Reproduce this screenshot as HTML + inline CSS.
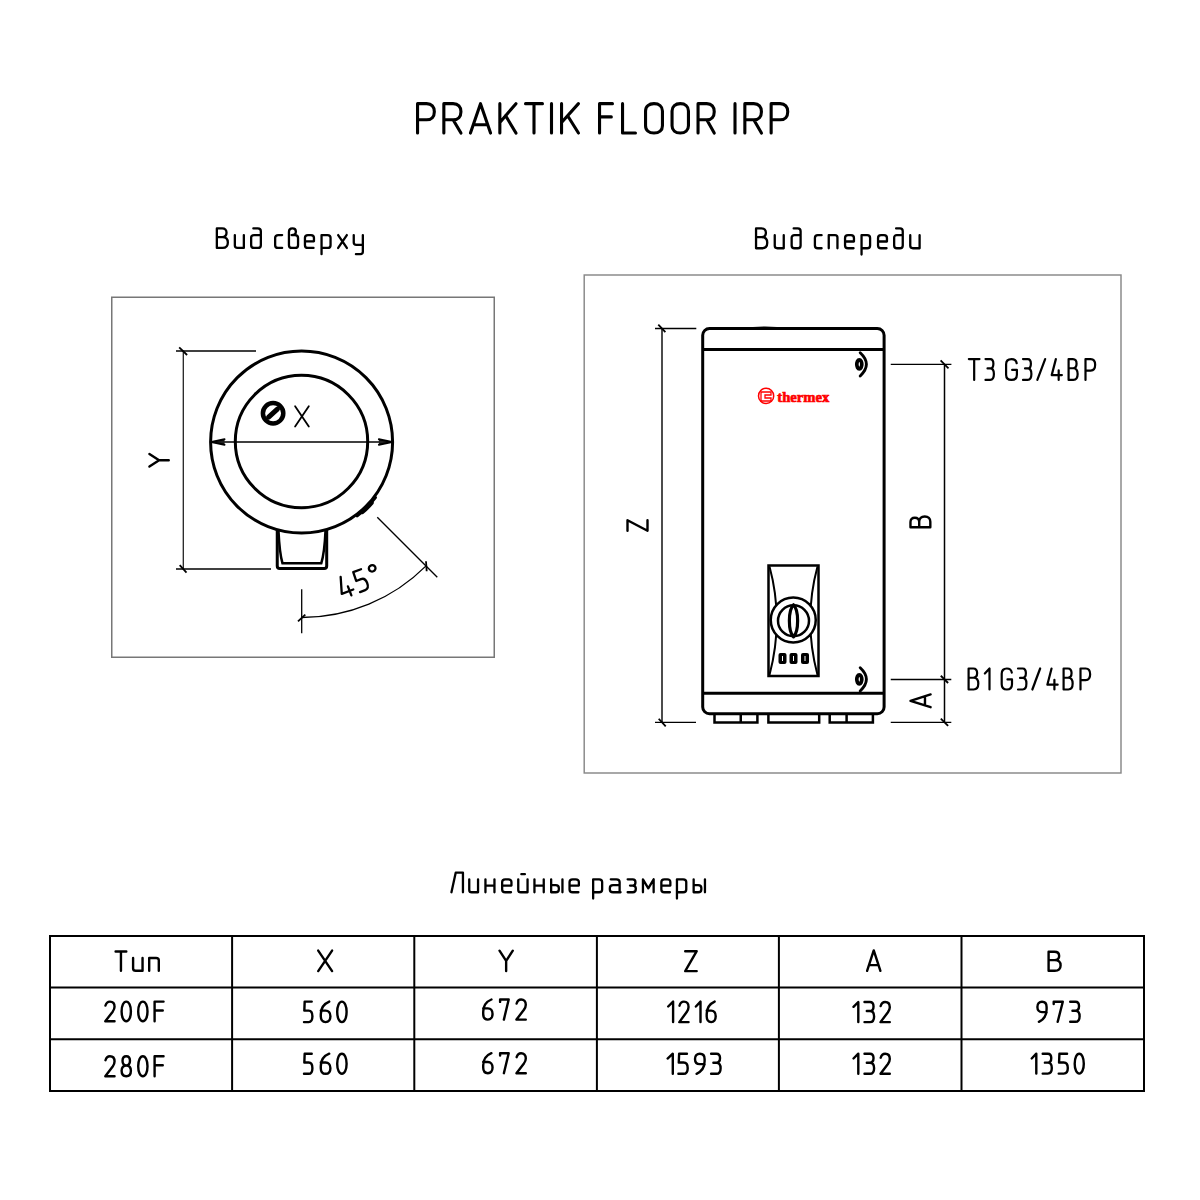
<!DOCTYPE html>
<html><head><meta charset="utf-8"><title>PRAKTIK FLOOR IRP</title>
<style>
html,body{margin:0;padding:0;background:#fff;}
svg{display:block;}
.ln{stroke:#000;fill:none;}
.tx use{vector-effect:non-scaling-stroke;}
.tx path{vector-effect:non-scaling-stroke;}
</style></head><body>
<svg width="1200" height="1200" viewBox="0 0 1200 1200">
<defs><path id="g0050" d="M0,100 L0,0 L27,0 C42,0 50,11 50,27.5 C50,44 42,55 27,55 L0,55" vector-effect="non-scaling-stroke"/><path id="g0052" d="M0,100 L0,0 L27,0 C42,0 50,11 50,27.5 C50,44 42,55 27,55 L0,55 M27,55 L50,100" vector-effect="non-scaling-stroke"/><path id="g0041" d="M0,100 L26,0 L52,100 M7.3,72 L44.7,72" vector-effect="non-scaling-stroke"/><path id="g004b" d="M0,0 L0,100 M50,0 L0,64 M18,41 L50,100" vector-effect="non-scaling-stroke"/><path id="g0054" d="M0,0 L50,0 M25,0 L25,100" vector-effect="non-scaling-stroke"/><path id="g0049" d="M0,0 L0,100" vector-effect="non-scaling-stroke"/><path id="g0046" d="M0,100 L0,0 L46,0 M0,45 L42,45" vector-effect="non-scaling-stroke"/><path id="g004c" d="M0,0 L0,100 L46,100" vector-effect="non-scaling-stroke"/><path id="g004f" d="M0,25 C0,9 10,0 25,0 C40,0 50,9 50,25 L50,75 C50,91 40,100 25,100 C10,100 0,91 0,75 Z" vector-effect="non-scaling-stroke"/><path id="g0047" d="M49,20 C47,7 38,0 25,0 C10,0 0,9 0,25 L0,75 C0,91 10,100 25,100 C40,100 50,91 50,75 L50,52 L28,52" vector-effect="non-scaling-stroke"/><path id="g0042" d="M0,44 L24,44 C37,44 44,36 44,22 C44,8 37,0 24,0 L0,0 L0,100 L26,100 C42,100 50,90 50,72 C50,54 42,44 26,44" vector-effect="non-scaling-stroke"/><path id="g0058" d="M0,0 L50,100 M50,0 L0,100" vector-effect="non-scaling-stroke"/><path id="g0412" d="M0,44 L24,44 C37,44 44,36 44,22 C44,8 37,0 24,0 L0,0 L0,100 L26,100 C42,100 50,90 50,72 C50,54 42,44 26,44" vector-effect="non-scaling-stroke"/><path id="g0059" d="M0,0 L25,50 L50,0 M25,50 L25,100" vector-effect="non-scaling-stroke"/><path id="g005a" d="M0,0 L50,0 L0,100 L50,100" vector-effect="non-scaling-stroke"/><path id="g0030" d="M25,0 C39,0 50,20 50,50 C50,80 39,100 25,100 C11,100 0,80 0,50 C0,20 11,0 25,0 Z" vector-effect="non-scaling-stroke"/><path id="g0031" d="M0,24 L24,0 L24,100" vector-effect="non-scaling-stroke"/><path id="g0032" d="M1,20 C5,7 14,0 25,0 C40,0 50,10 50,26 C50,36 46,43 40,51 L0,100 L50,100" vector-effect="non-scaling-stroke"/><path id="g0033" d="M0,0 L28,0 C40,0 47,9 47,22 C47,36 40,45 28,45 L12,45 M28,45 C43,45 50,56 50,72 C50,90 42,100 28,100 L0,100" vector-effect="non-scaling-stroke"/><path id="g0034" d="M22,0 L0,77 L54,77 M37,54 L37,100" vector-effect="non-scaling-stroke"/><path id="g0035" d="M46,0 L4,0 L2,44 L28,44 C43,44 50,56 50,72 C50,90 42,100 28,100 L0,100" vector-effect="non-scaling-stroke"/><path id="g0036" d="M44,0 C18,10 0,30 0,62 L0,72 C0,89 10,100 25,100 C40,100 50,89 50,72 C50,54 40,44 25,44 L0,44" vector-effect="non-scaling-stroke"/><path id="g0037" d="M0,12 L0,0 L50,0 L22,100" vector-effect="non-scaling-stroke"/><path id="g0038" d="M25,46 C13,46 5,37 5,23 C5,9 13,0 25,0 C37,0 45,9 45,23 C45,37 37,46 25,46 C40,46 50,56 50,73 C50,90 40,100 25,100 C10,100 0,90 0,73 C0,56 10,46 25,46 Z" vector-effect="non-scaling-stroke"/><path id="g0039" d="M50,52 L25,52 C10,52 0,42 0,26 C0,10 10,0 25,0 C40,0 50,10 50,26 L50,38 C50,70 32,90 8,100" vector-effect="non-scaling-stroke"/><path id="g002f" d="M0,100 L30,0" vector-effect="non-scaling-stroke"/><path id="g00b0" d="M15,0 C23.3,0 30,6.7 30,15 C30,23.3 23.3,30 15,30 C6.7,30 0,23.3 0,15 C0,6.7 6.7,0 15,0 Z" vector-effect="non-scaling-stroke"/><path id="g0438" d="M0,34 L0,88 C0,96 4,100 12,100 L42,100 M42,34 L42,100" vector-effect="non-scaling-stroke"/><path id="g0075" d="M0,34 L0,88 C0,96 4,100 12,100 L42,100 M42,34 L42,100" vector-effect="non-scaling-stroke"/><path id="g043f" d="M0,100 L0,34 L30,34 C38,34 42,38 42,46 L42,100" vector-effect="non-scaling-stroke"/><path id="g006e" d="M0,100 L0,34 L30,34 C38,34 42,38 42,46 L42,100" vector-effect="non-scaling-stroke"/><path id="g0434" d="M10,0 L30,0 C39,0 44,5 44,14 L44,86 C44,95 39,100 30,100 L14,100 C5,100 0,95 0,86 L0,47 C0,38 5,34 14,34 L44,34" vector-effect="non-scaling-stroke"/><path id="g0441" d="M32,34 L14,34 C5,34 0,39 0,48 L0,86 C0,95 5,100 14,100 L32,100" vector-effect="non-scaling-stroke"/><path id="g0432" d="M14,100 C5,100 0,95 0,86 L0,18 C0,6 6,0 16,0 C26,0 32,6 32,17 C32,28 26,34 12,34 L28,34 C37,34 42,40 42,49 L42,86 C42,95 37,100 28,100 Z" vector-effect="non-scaling-stroke"/><path id="g0435" d="M0,66 L42,66 L42,48 C42,39 37,34 28,34 L14,34 C5,34 0,39 0,48 L0,86 C0,95 5,100 14,100 L40,100" vector-effect="non-scaling-stroke"/><path id="g0440" d="M0,132 L0,34 L28,34 C37,34 42,39 42,48 L42,86 C42,95 37,100 28,100 L0,100" vector-effect="non-scaling-stroke"/><path id="g0445" d="M0,34 L42,100 M42,34 L0,100" vector-effect="non-scaling-stroke"/><path id="g0443" d="M0,34 L0,72 C0,80 4,84 12,84 L42,84 M42,34 L42,120 C42,128 38,132 30,132 L10,132" vector-effect="non-scaling-stroke"/><path id="g041b" d="M0,100 L17,0 L46,0 L46,100" vector-effect="non-scaling-stroke"/><path id="g043d" d="M0,34 L0,100 M0,66 L42,66 M42,34 L42,100" vector-effect="non-scaling-stroke"/><path id="g0439" d="M0,34 L0,88 C0,96 4,100 12,100 L42,100 M42,34 L42,100 M14,8 L30,8" vector-effect="non-scaling-stroke"/><path id="g044b" d="M0,34 L0,100 L20,100 C29,100 34,95 34,86 L34,78 C34,69 29,64 20,64 L0,64 M50,34 L50,100" vector-effect="non-scaling-stroke"/><path id="g0430" d="M4,34 L28,34 C37,34 42,39 42,48 L42,92 C42,97 44,100 46,100 M42,100 L14,100 C5,100 0,95 0,86 L0,78 C0,69 5,64 14,64 L42,64" vector-effect="non-scaling-stroke"/><path id="g0437" d="M0,34 L26,34 C35,34 40,39 40,49 C40,60 35,66 26,66 L12,66 M26,66 C37,66 42,72 42,82 C42,95 36,100 26,100 L0,100" vector-effect="non-scaling-stroke"/><path id="g043c" d="M0,100 L0,34 L23,80 L46,34 L46,100" vector-effect="non-scaling-stroke"/></defs>
<rect width="1200" height="1200" fill="#fff"/>

<!-- Title -->

<!-- headings -->

<!-- frames -->
<rect x="111.75" y="297.25" width="382.5" height="360" fill="none" stroke="#777" stroke-width="1.5"/>
<rect x="584.2" y="275" width="536.8" height="498" fill="none" stroke="#888" stroke-width="1.45"/>

<!-- ===== TOP VIEW ===== -->
<g class="ln">
  <line x1="183.3" y1="351" x2="183.3" y2="569" stroke="#222" stroke-width="1.3"/>
  <line x1="176" y1="351" x2="256" y2="351" stroke-width="1.3"/>
  <line x1="176" y1="569" x2="271" y2="569" stroke-width="1.3"/>
  <line x1="179.2" y1="347.3" x2="187.1" y2="355" stroke-width="1.8"/>
  <line x1="179.7" y1="565.2" x2="186.5" y2="572.7" stroke-width="1.8"/>
</g>

<circle cx="301.6" cy="442" r="91" fill="none" stroke="#000" stroke-width="3"/>
<circle cx="301.5" cy="441.5" r="66.2" fill="none" stroke="#000" stroke-width="3"/>
<line x1="211" y1="442" x2="392.2" y2="442" stroke="#000" stroke-width="1.3"/>
<path d="M224.5,439.3 L211.6,442 L224.5,444.8" fill="#222" stroke="#000" stroke-width="2" stroke-linecap="round" stroke-linejoin="round"/>
<path d="M378.9,439.3 L391.8,442 L378.9,444.8" fill="#222" stroke="#000" stroke-width="2" stroke-linecap="round" stroke-linejoin="round"/>
<!-- diameter symbol -->
<circle cx="273.1" cy="413.3" r="10.2" fill="none" stroke="#000" stroke-width="4.5"/>
<line x1="268.6" y1="417.2" x2="277.4" y2="409.2" stroke="#000" stroke-width="5" stroke-linecap="round"/>

<!-- foot -->
<path d="M277.25,530 L277.25,566 Q277.25,568.5 279.75,568.5 L324.2,568.5 Q326.7,568.5 326.7,566 L326.7,530" class="ln" stroke-width="3"/>
<path d="M278.5,531 Q279.5,553 282.5,563.3 L321.25,563.3 Q324.5,553 325.5,531" class="ln" stroke-width="2.5"/>
<!-- stub -->
<path d="M357.15,515.71 A92.3,92.3 0 0 0 375.31,497.55" class="ln" stroke-width="3.2" stroke-linecap="round"/><path d="M362.48,512.04 A92.8,92.8 0 0 0 371.64,502.88" class="ln" stroke-width="4.2" stroke-linecap="round"/>
<!-- 45 deg -->
<g class="ln" stroke-width="1.3">
  <line x1="301.7" y1="589.3" x2="301.7" y2="633.3"/>
  <line x1="377.3" y1="517.3" x2="437.3" y2="577.3"/>
  <path d="M301.7,617.5 A175.5,175.5 0 0 0 425.8,566.1"/>
</g>
<g class="ln" stroke-width="1.8">
  <line x1="298" y1="621.3" x2="305.3" y2="614.7"/>
  <line x1="426" y1="561.3" x2="426.7" y2="571.3"/>
</g>

<!-- ===== FRONT VIEW ===== -->
<g class="ln">
  <line x1="662" y1="328.5" x2="662" y2="722.3" stroke="#111" stroke-width="1.5"/>
  <line x1="655" y1="328.5" x2="696.3" y2="328.5" stroke-width="1.3"/>
  <line x1="655" y1="722.3" x2="696" y2="722.3" stroke-width="1.3"/>
  <line x1="658.3" y1="324.6" x2="665.4" y2="332.1" stroke-width="1.8"/>
  <line x1="658.7" y1="718.75" x2="665.7" y2="726.3" stroke-width="1.8"/>
  <!-- B dim -->
  <line x1="944.5" y1="364.3" x2="944.5" y2="722.4" stroke-width="1.5"/>
  <line x1="890.75" y1="364.3" x2="951.4" y2="364.3" stroke-width="1.3"/>
  <line x1="890.75" y1="679.5" x2="951.3" y2="679.5" stroke-width="1.3"/>
  <line x1="890.75" y1="722.4" x2="951.3" y2="722.4" stroke-width="1.3"/>
  <line x1="940.6" y1="360.4" x2="948.5" y2="368.3" stroke-width="1.8"/>
  <line x1="940.8" y1="675.75" x2="948.1" y2="683" stroke-width="1.8"/>
  <line x1="940.8" y1="718.6" x2="948.1" y2="725.9" stroke-width="1.8"/>
</g>

<!-- body -->
<rect x="702.7" y="328.5" width="181.4" height="385.3" rx="6.8" class="ln" stroke-width="3"/>
<line x1="702.7" y1="349.5" x2="884.1" y2="349.5" stroke="#000" stroke-width="3"/>
<path d="M753,327.6 Q765,326.6 777,327.6" class="ln" stroke-width="1.4"/>
<line x1="702.7" y1="693.3" x2="884.1" y2="693.3" stroke="#000" stroke-width="3"/>
<g class="ln" stroke-width="2.5">
  <path d="M714.5,713.8 L714.5,722.6 L757.4,722.6 L757.4,713.8 M740.75,713.8 L740.75,722.6"/>
  <path d="M768.4,713.8 L768.4,722.6 L819.2,722.6 L819.2,713.8"/>
  <path d="M829.7,713.8 L829.7,722.6 L872.9,722.6 L872.9,713.8 M846.6,713.8 L846.6,722.6"/>
</g>
<!-- pipe symbols -->
<g id="pipe1">
<ellipse cx="859.3" cy="364.3" rx="2.5" ry="4.5" fill="none" stroke="#000" stroke-width="3.7"/>
<path d="M860.2,352.8 Q872.6,364.3 860.2,376" class="ln" stroke-width="2.9" stroke-linecap="round"/>
</g>
<g transform="translate(0,315)">
<ellipse cx="859.3" cy="364.3" rx="2.5" ry="4.5" fill="none" stroke="#000" stroke-width="3.7"/>
<path d="M860.2,352.8 Q872.6,364.3 860.2,376" class="ln" stroke-width="2.9" stroke-linecap="round"/>
</g>

<!-- logo -->
<circle cx="766.1" cy="395.9" r="7.6" fill="none" stroke="#f00" stroke-width="1.5"/>
<path d="M761,392 h10 v3 h-6 v3 h6 v3 h-10 z" fill="none" stroke="#f00" stroke-width="1.3"/>
<text x="777.3" y="401.6" font-weight="bold" font-size="15.5" style="font-family:'Liberation Serif',serif;fill:#f00;stroke:#f00;stroke-width:0.7" textLength="52" lengthAdjust="spacingAndGlyphs">thermex</text>

<!-- control panel -->
<rect x="768.5" y="565.5" width="50" height="110.5" fill="none" stroke="#000" stroke-width="2.5"/>
<path d="M769.5,566.5 Q784,620 769.5,675" class="ln" stroke-width="2"/>
<path d="M817.5,566.5 Q803,620 817.5,675" class="ln" stroke-width="2"/>
<circle cx="793.25" cy="620" r="22.5" fill="#fff" stroke="#000" stroke-width="2.5"/>
<circle cx="793.5" cy="620.75" r="15.5" fill="none" stroke="#000" stroke-width="2.5"/>
<path d="M793.5,604.8 C788,610 788,631.5 793.5,636.8 C799,631.5 799,610 793.5,604.8 Z" class="ln" stroke-width="3.2" stroke-linejoin="round"/>
<g fill="#000">
  <rect x="778.5" y="653" width="8" height="11" rx="2"/>
  <rect x="789.5" y="653" width="8" height="11" rx="2"/>
  <rect x="801" y="653" width="8" height="11" rx="2"/>
</g>
<g stroke="#fff" stroke-width="1">
  <line x1="782.5" y1="656" x2="782.5" y2="661"/>
  <line x1="793.5" y1="656" x2="793.5" y2="661"/>
  <line x1="805" y1="656" x2="805" y2="661"/>
</g>

<!-- labels -->

<!-- ===== TABLE ===== -->
<g stroke="#000" stroke-width="2" fill="none">
  <rect x="50" y="936" width="1094" height="155"/>
  <line x1="50" y1="987.5" x2="1144" y2="987.5"/>
  <line x1="50" y1="1039.2" x2="1144" y2="1039.2"/>
  <line x1="232.1" y1="936" x2="232.1" y2="1091"/>
  <line x1="414.3" y1="936" x2="414.3" y2="1091"/>
  <line x1="596.9" y1="936" x2="596.9" y2="1091"/>
  <line x1="778.9" y1="936" x2="778.9" y2="1091"/>
  <line x1="961.5" y1="936" x2="961.5" y2="1091"/>
</g>

<g class="tx" fill="none" stroke="#000" stroke-linecap="round" stroke-linejoin="round">
<g stroke-width="3.10"><use href="#g0050" transform="translate(417.55,103.65) scale(0.33600,0.29400)"/><use href="#g0052" transform="translate(443.85,103.65) scale(0.34200,0.29400)"/><use href="#g0041" transform="translate(470.45,103.65) scale(0.38654,0.29400)"/><use href="#g004b" transform="translate(499.85,103.65) scale(0.32200,0.29400)"/><use href="#g0054" transform="translate(525.55,103.65) scale(0.33800,0.29400)"/><use href="#g0049" transform="translate(551.50,103.65) scale(0.29400)"/><use href="#g004b" transform="translate(561.55,103.65) scale(0.33800,0.29400)"/><use href="#g0046" transform="translate(599.55,103.65) scale(0.28043,0.29400)"/><use href="#g004c" transform="translate(622.55,103.65) scale(0.28043,0.29400)"/><use href="#g004f" transform="translate(645.55,103.65) scale(0.33800,0.29400)"/><use href="#g004f" transform="translate(672.05,103.65) scale(0.32800,0.29400)"/><use href="#g0052" transform="translate(698.05,103.65) scale(0.32400,0.29400)"/><use href="#g0049" transform="translate(735.00,103.65) scale(0.29400)"/><use href="#g0052" transform="translate(744.85,103.65) scale(0.33200,0.29400)"/><use href="#g0050" transform="translate(771.15,103.65) scale(0.33200,0.29400)"/></g>
<g stroke-width="2.30"><use href="#g0412" transform="translate(216.85,228.45) scale(0.22000,0.19500)"/><use href="#g0438" transform="translate(234.85,228.45) scale(0.21429,0.19500)"/><use href="#g0434" transform="translate(251.15,228.45) scale(0.22045,0.19500)"/><use href="#g0441" transform="translate(275.15,228.45) scale(0.21875,0.19500)"/><use href="#g0432" transform="translate(288.95,228.45) scale(0.21667,0.19500)"/><use href="#g0435" transform="translate(304.95,228.45) scale(0.21429,0.19500)"/><use href="#g0440" transform="translate(321.55,228.45) scale(0.21429,0.19500)"/><use href="#g0445" transform="translate(338.15,228.45) scale(0.20714,0.19500)"/><use href="#g0443" transform="translate(353.75,228.45) scale(0.21667,0.19500)"/></g>
<g stroke-width="2.30"><use href="#g0412" transform="translate(756.05,228.40) scale(0.22400,0.19850)"/><use href="#g0438" transform="translate(774.75,228.40) scale(0.21429,0.19850)"/><use href="#g0434" transform="translate(791.65,228.40) scale(0.20341,0.19850)"/><use href="#g0441" transform="translate(814.90,228.40) scale(0.20938,0.19850)"/><use href="#g043f" transform="translate(828.75,228.40) scale(0.20714,0.19850)"/><use href="#g0435" transform="translate(845.05,228.40) scale(0.21190,0.19850)"/><use href="#g0440" transform="translate(861.55,228.40) scale(0.20357,0.19850)"/><use href="#g0435" transform="translate(878.05,228.40) scale(0.21190,0.19850)"/><use href="#g0434" transform="translate(894.15,228.40) scale(0.19545,0.19850)"/><use href="#g0438" transform="translate(910.25,228.40) scale(0.22262,0.19850)"/></g>
<g stroke-width="2.30"><use href="#g041b" transform="translate(451.45,872.65) scale(0.25000,0.19600)"/><use href="#g0438" transform="translate(469.25,872.65) scale(0.20952,0.19600)"/><use href="#g043d" transform="translate(485.45,872.65) scale(0.21429,0.19600)"/><use href="#g0435" transform="translate(502.15,872.65) scale(0.22143,0.19600)"/><use href="#g0439" transform="translate(518.25,872.65) scale(0.22143,0.19600)"/><use href="#g043d" transform="translate(534.45,872.65) scale(0.22143,0.19600)"/><use href="#g044b" transform="translate(551.15,872.65) scale(0.22600,0.19600)"/><use href="#g0435" transform="translate(569.55,872.65) scale(0.22143,0.19600)"/><use href="#g0440" transform="translate(593.15,872.65) scale(0.21429,0.19600)"/><use href="#g0430" transform="translate(609.85,872.65) scale(0.23261,0.19600)"/><use href="#g0437" transform="translate(627.65,872.65) scale(0.19524,0.19600)"/><use href="#g043c" transform="translate(642.95,872.65) scale(0.23261,0.19600)"/><use href="#g0435" transform="translate(661.35,872.65) scale(0.21429,0.19600)"/><use href="#g0440" transform="translate(676.95,872.65) scale(0.22143,0.19600)"/><use href="#g044b" transform="translate(693.65,872.65) scale(0.22600,0.19600)"/></g>
<g stroke-width="2.20"><use href="#g0054" transform="translate(968.85,359.10) scale(0.21300,0.20800)"/><use href="#g0033" transform="translate(985.50,359.10) scale(0.16800,0.20800)"/><use href="#g0047" transform="translate(1006.10,359.10) scale(0.21600,0.20800)"/><use href="#g0033" transform="translate(1023.00,359.10) scale(0.16800,0.20800)"/><use href="#g002f" transform="translate(1037.35,359.10) scale(0.26000,0.20800)"/><use href="#g0034" transform="translate(1051.70,359.10) scale(0.18889,0.20800)"/><use href="#g0042" transform="translate(1068.60,359.10) scale(0.18100,0.20800)"/><use href="#g0050" transform="translate(1085.50,359.10) scale(0.19300,0.20800)"/></g>
<g stroke-width="2.20"><use href="#g0042" transform="translate(968.60,668.50) scale(0.19400,0.21000)"/><use href="#g0031" transform="translate(984.85,668.50) scale(0.19375,0.21000)"/><use href="#g0047" transform="translate(1001.70,668.50) scale(0.20600,0.21000)"/><use href="#g0033" transform="translate(1018.00,668.50) scale(0.16800,0.21000)"/><use href="#g002f" transform="translate(1032.35,668.50) scale(0.26000,0.21000)"/><use href="#g0034" transform="translate(1047.35,668.50) scale(0.19074,0.21000)"/><use href="#g0042" transform="translate(1063.60,668.50) scale(0.18100,0.21000)"/><use href="#g0050" transform="translate(1080.50,668.50) scale(0.19300,0.21000)"/></g>
<g stroke-width="2.40"><use href="#g0054" transform="translate(115.60,951.45) scale(0.21400,0.19250)"/><use href="#g0075" transform="translate(133.10,951.45) scale(0.22500,0.19250)"/><use href="#g006e" transform="translate(149.20,951.45) scale(0.22857,0.19250)"/></g>
<g transform="translate(318.20,950.60) scale(0.27800,0.20500)" stroke-width="2.40"><use href="#g0058"/></g>
<g transform="translate(499.50,950.70) scale(0.26600,0.20300)" stroke-width="2.40"><use href="#g0059"/></g>
<g transform="translate(685.20,951.20) scale(0.23000,0.19900)" stroke-width="2.40"><use href="#g005a"/></g>
<g transform="translate(867.10,950.40) scale(0.25577,0.20400)" stroke-width="2.40"><use href="#g0041"/></g>
<g transform="translate(1048.60,951.70) scale(0.24000,0.19100)" stroke-width="2.40"><use href="#g0042"/></g>
<g stroke-width="2.40"><use href="#g0032" transform="translate(105.30,1001.60) scale(0.18500,0.19700)"/><use href="#g0030" transform="translate(121.60,1001.60) scale(0.18600,0.19700)"/><use href="#g0030" transform="translate(138.20,1001.60) scale(0.18600,0.19700)"/><use href="#g0046" transform="translate(154.60,1001.60) scale(0.19457,0.19700)"/></g>
<g stroke-width="2.40"><use href="#g0035" transform="translate(304.00,1001.60) scale(0.16800,0.20500)"/><use href="#g0036" transform="translate(320.80,1001.60) scale(0.19200,0.20500)"/><use href="#g0030" transform="translate(337.20,1001.60) scale(0.18800,0.20500)"/></g>
<g stroke-width="2.40"><use href="#g0036" transform="translate(483.20,999.50) scale(0.18700,0.20100)"/><use href="#g0037" transform="translate(500.10,999.50) scale(0.17200,0.20100)"/><use href="#g0032" transform="translate(516.45,999.50) scale(0.18700,0.20100)"/></g>
<g stroke-width="2.40"><use href="#g0031" transform="translate(668.20,1001.60) scale(0.20417,0.20500)"/><use href="#g0032" transform="translate(679.30,1001.60) scale(0.18500,0.20500)"/><use href="#g0031" transform="translate(695.90,1001.60) scale(0.19167,0.20500)"/><use href="#g0036" transform="translate(706.70,1001.60) scale(0.18000,0.20500)"/></g>
<g stroke-width="2.40"><use href="#g0031" transform="translate(853.50,1002.00) scale(0.20000,0.20100)"/><use href="#g0033" transform="translate(864.50,1002.00) scale(0.19200,0.20100)"/><use href="#g0032" transform="translate(880.50,1002.00) scale(0.18600,0.20100)"/></g>
<g stroke-width="2.40"><use href="#g0039" transform="translate(1037.40,1001.70) scale(0.18400,0.20100)"/><use href="#g0037" transform="translate(1053.70,1001.70) scale(0.18200,0.20100)"/><use href="#g0033" transform="translate(1070.20,1001.70) scale(0.18800,0.20100)"/></g>
<g stroke-width="2.40"><use href="#g0032" transform="translate(105.30,1056.20) scale(0.18500,0.20100)"/><use href="#g0038" transform="translate(121.60,1056.20) scale(0.18600,0.20100)"/><use href="#g0030" transform="translate(138.20,1056.20) scale(0.18600,0.20100)"/><use href="#g0046" transform="translate(154.60,1056.20) scale(0.19457,0.20100)"/></g>
<g stroke-width="2.40"><use href="#g0035" transform="translate(304.00,1053.70) scale(0.16800,0.20100)"/><use href="#g0036" transform="translate(320.80,1053.70) scale(0.19200,0.20100)"/><use href="#g0030" transform="translate(337.20,1053.70) scale(0.18800,0.20100)"/></g>
<g stroke-width="2.40"><use href="#g0036" transform="translate(483.20,1053.20) scale(0.18700,0.20000)"/><use href="#g0037" transform="translate(500.10,1053.20) scale(0.17200,0.20000)"/><use href="#g0032" transform="translate(516.45,1053.20) scale(0.18700,0.20000)"/></g>
<g stroke-width="2.40"><use href="#g0031" transform="translate(667.60,1053.70) scale(0.21667,0.20100)"/><use href="#g0035" transform="translate(678.40,1053.70) scale(0.18600,0.20100)"/><use href="#g0039" transform="translate(695.00,1053.70) scale(0.19200,0.20100)"/><use href="#g0033" transform="translate(711.10,1053.70) scale(0.19000,0.20100)"/></g>
<g stroke-width="2.40"><use href="#g0031" transform="translate(853.50,1053.70) scale(0.20000,0.20100)"/><use href="#g0033" transform="translate(864.50,1053.70) scale(0.19200,0.20100)"/><use href="#g0032" transform="translate(880.50,1053.70) scale(0.18600,0.20100)"/></g>
<g stroke-width="2.40"><use href="#g0031" transform="translate(1031.70,1053.70) scale(0.19167,0.19900)"/><use href="#g0033" transform="translate(1042.70,1053.70) scale(0.18200,0.19900)"/><use href="#g0035" transform="translate(1058.70,1053.70) scale(0.18200,0.19900)"/><use href="#g0030" transform="translate(1074.70,1053.70) scale(0.18200,0.19900)"/></g>
<g transform="rotate(-90 159.10 460.20) translate(152.80,450.52) scale(0.25200,0.19350)" stroke-width="2.40"><use href="#g0059"/></g>
<g transform="rotate(-90 637.50 525.50) translate(632.20,515.50) scale(0.21200,0.20000)" stroke-width="2.40"><use href="#g005a"/></g>
<g transform="rotate(-90 920.40 521.90) translate(914.98,511.97) scale(0.21700,0.19850)" stroke-width="2.40"><use href="#g0042"/></g>
<g transform="rotate(-90 920.55 700.80) translate(914.17,690.75) scale(0.24519,0.20100)" stroke-width="2.40"><use href="#g0041"/></g>
<g transform="translate(295.10,406.20) scale(0.27400,0.20400)" stroke-width="1.80"><use href="#g0058"/></g>
<g transform="rotate(-21 358 583)" stroke-width="2.30"><use href="#g0034" transform="translate(338.95,571.20) scale(0.22778,0.21000)"/><use href="#g0035" transform="translate(356.65,571.20) scale(0.19800,0.21000)"/><use href="#g00b0" transform="translate(373.15,571.20) scale(0.22333,0.21000)"/></g>
</g>
</svg>
</body></html>
